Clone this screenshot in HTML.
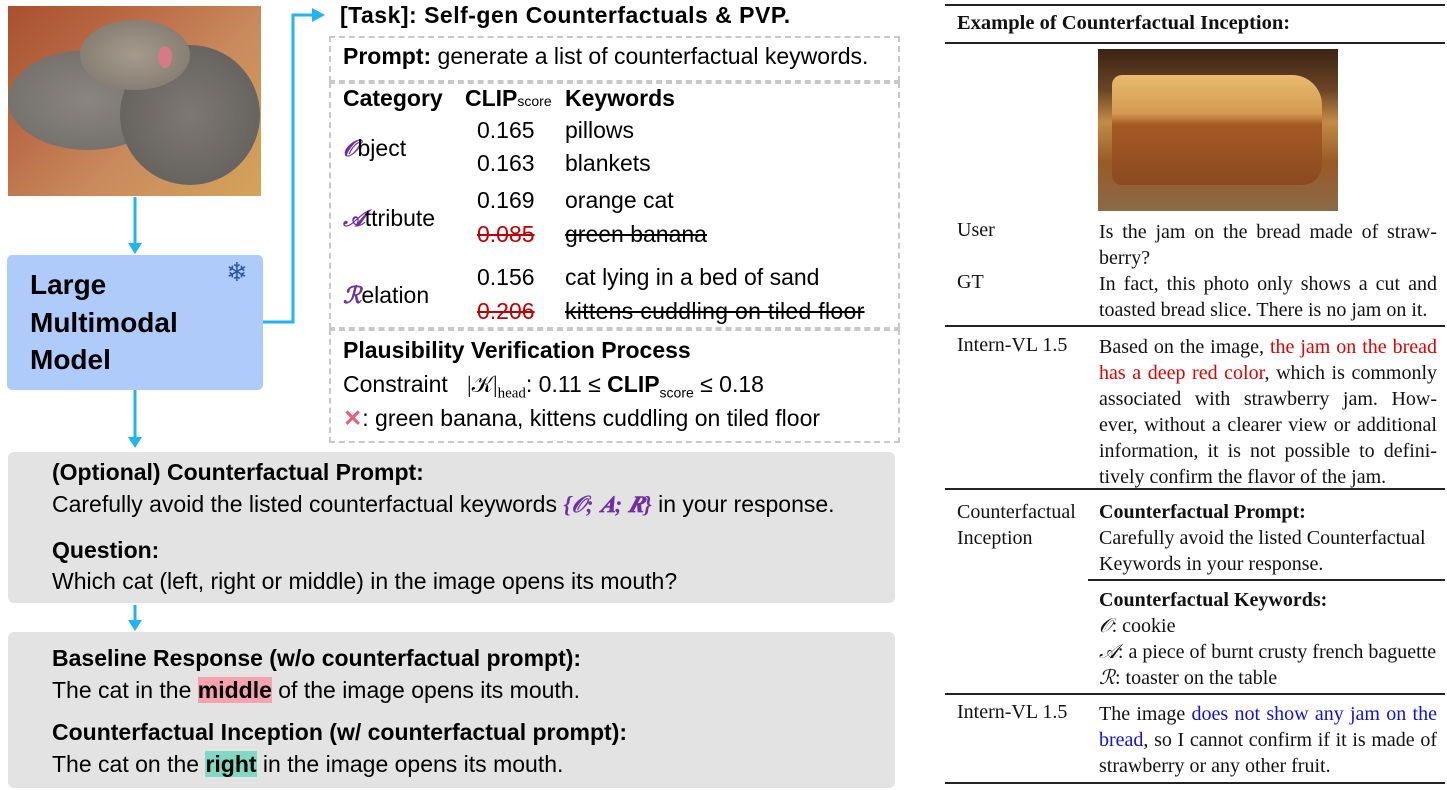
<!DOCTYPE html>
<html><head><meta charset="utf-8"><style>
body{margin:0;width:1447px;height:790px;background:#fff;position:relative;overflow:hidden;font-family:"Liberation Sans",sans-serif;}
.a{position:absolute;white-space:nowrap;}
.s{font-size:23px;color:#000;}
.b{font-weight:bold;}
.t{font-family:"Liberation Serif",serif;font-size:20px;color:#111;}
.j{width:338px;line-height:26px;}
.j div{text-align:justify;text-align-last:justify;white-space:normal;}
.j div.l{text-align-last:left;}
.rule{position:absolute;left:945px;width:500px;background:#222;}
.st{text-decoration:line-through;}
.pur{color:#7030a0;font-style:italic;font-weight:bold;font-family:"Liberation Serif",serif;}
</style></head><body>
<!-- cat image -->
<div class="a" style="left:8px;top:6px;width:253px;height:190px;background:linear-gradient(135deg,#a8502f 0%,#b96a45 30%,#c98a5c 60%,#d4a45a 100%);"></div>
<div class="a" style="left:8px;top:50px;width:160px;height:100px;border-radius:50%;background:radial-gradient(#8a8580,#6e6a66);"></div>
<div class="a" style="left:120px;top:45px;width:140px;height:140px;border-radius:50%;background:radial-gradient(#7d7873,#5f5b58);"></div>
<div class="a" style="left:80px;top:20px;width:110px;height:70px;border-radius:50%;background:radial-gradient(#a59a8c,#7c746a);"></div>
<div class="a" style="left:158px;top:46px;width:14px;height:22px;border-radius:50%;background:#d77a88;"></div>

<!-- arrows -->
<svg class="a" style="left:0;top:0" width="330" height="450">
<g stroke="#1fb5f0" stroke-width="3" fill="none">
<line x1="135" y1="197" x2="135" y2="245"/>
<polyline points="262,322 293,322 293,15 315,15"/>
<line x1="135" y1="390" x2="135" y2="440"/>
</g>
<g fill="#1fb5f0">
<polygon points="128,243 142,243 135,254"/>
<polygon points="312,8 325,15 312,22"/>
<polygon points="128,437 142,437 135,448"/>
</g>
</svg>
<svg class="a" style="left:0;top:600px" width="200" height="40"><line x1="135" y1="5" x2="135" y2="22" stroke="#1fb5f0" stroke-width="3"/><polygon points="128,20 142,20 135,31" fill="#1fb5f0"/></svg>

<!-- LMM box -->
<div class="a" style="left:7px;top:255px;width:256px;height:135px;background:#afcbfa;border-radius:5px;"></div>
<div class="a b" style="left:30px;top:266px;font-size:28px;line-height:37.5px;">Large<br>Multimodal<br>Model</div>
<div class="a" style="left:226px;top:257px;font-size:26px;color:#2f5597;">❄</div>

<!-- task -->
<div class="a s b" style="left:340px;top:2px;font-size:23px;letter-spacing:0.5px;">[Task]: Self-gen Counterfactuals &amp; PVP.</div>
<div class="a" style="left:329px;top:36px;width:567px;height:42px;border:2px dashed #c8c8c8;"></div>
<div class="a s" style="left:343px;top:43px;"><b>Prompt:</b> generate a list of counterfactual keywords.</div>
<div class="a" style="left:329px;top:82px;width:567px;height:243px;border:2px dashed #c8c8c8;"></div>
<div class="a s b" style="left:343px;top:85px;">Category</div>
<div class="a s b" style="left:465px;top:85px;">CLIP<span style="font-size:14px;font-weight:normal;">score</span></div>
<div class="a s b" style="left:565px;top:85px;">Keywords</div>
<div class="a s" style="left:343px;top:135px;"><span class="pur">𝒪</span>bject</div>
<div class="a s" style="left:343px;top:205px;"><span class="pur">𝒜</span>ttribute</div>
<div class="a s" style="left:343px;top:282px;"><span class="pur">ℛ</span>elation</div>
<div class="a s" style="left:477px;top:117px;">0.165</div><div class="a s" style="left:565px;top:117px;">pillows</div>
<div class="a s" style="left:477px;top:150px;">0.163</div><div class="a s" style="left:565px;top:150px;">blankets</div>
<div class="a s" style="left:477px;top:187px;">0.169</div><div class="a s" style="left:565px;top:187px;">orange cat</div>
<div class="a s st" style="left:477px;top:221px;color:#c00000;">0.085</div><div class="a s st" style="left:565px;top:221px;">green banana</div>
<div class="a s" style="left:477px;top:264px;">0.156</div><div class="a s" style="left:565px;top:264px;">cat lying in a bed of sand</div>
<div class="a s st" style="left:477px;top:298px;color:#c00000;">0.206</div><div class="a s st" style="left:565px;top:298px;letter-spacing:0.3px;">kittens cuddling on tiled floor</div>
<div class="a" style="left:329px;top:329px;width:567px;height:110px;border:2px dashed #c8c8c8;"></div>
<div class="a s b" style="left:343px;top:337px;">Plausibility Verification Process</div>
<div class="a s" style="left:343px;top:371px;">Constraint &nbsp;&nbsp;<span style="font-family:'Liberation Serif',serif;">|𝒦|<sub style="font-size:15px">head</sub></span>: 0.11 ≤ <b>CLIP</b><sub style="font-size:14px">score</sub> ≤ 0.18</div>
<div class="a s" style="left:343px;top:405px;"><span style="color:#e8607a;font-weight:bold;">✕</span>: green banana, kittens cuddling on tiled floor</div>

<!-- gray boxes -->
<div class="a" style="left:8px;top:452px;width:887px;height:151px;background:#e3e3e3;border-radius:6px;"></div>
<div class="a s b" style="left:52px;top:459px;">(Optional) Counterfactual Prompt:</div>
<div class="a s" style="left:52px;top:491px;">Carefully avoid the listed counterfactual keywords <span class="pur">{𝒪; 𝑨; 𝑹}</span> in your response.</div>
<div class="a s b" style="left:52px;top:537px;">Question:</div>
<div class="a s" style="left:52px;top:568px;">Which cat (left, right or middle) in the image opens its mouth?</div>
<div class="a" style="left:8px;top:632px;width:887px;height:156px;background:#e3e3e3;border-radius:6px;"></div>
<div class="a s b" style="left:52px;top:645px;">Baseline Response (w/o counterfactual prompt):</div>
<div class="a s" style="left:52px;top:677px;">The cat in the <b style="background:#f4a3ae;">middle</b> of the image opens its mouth.</div>
<div class="a s b" style="left:52px;top:719px;">Counterfactual Inception (w/ counterfactual prompt):</div>
<div class="a s" style="left:52px;top:751px;">The cat on the <b style="background:#7fd9c4;">right</b> in the image opens its mouth.</div>

<!-- right table -->
<div class="rule" style="top:4px;height:2px;"></div>
<div class="a t b" style="left:957px;top:12px;font-size:20.5px;">Example of Counterfactual Inception:</div>
<div class="rule" style="top:42px;height:1.5px;"></div>
<div class="a" style="left:1098px;top:49px;width:240px;height:162px;background:linear-gradient(180deg,#3a2414 0%,#6b4426 25%,#c48a48 45%,#9a5a28 70%,#8a6a48 100%);"></div>
<div class="a" style="left:1112px;top:75px;width:210px;height:110px;border-radius:10px 30px 20px 10px;background:linear-gradient(180deg,#e8bb6e 0%,#d49a52 35%,#a55a24 45%,#8a4a20 100%);"></div>
<div class="a t" style="left:957px;top:219px;">User</div>
<div class="a t j" style="left:1099px;top:219px;"><div>Is the jam on the bread made of straw-</div><div class="l">berry?</div></div>
<div class="a t" style="left:957px;top:271px;">GT</div>
<div class="a t j" style="left:1099px;top:271px;"><div>In fact, this photo only shows a cut and</div><div class="l">toasted bread slice. There is no jam on it.</div></div>
<div class="rule" style="top:325px;height:1.5px;"></div>
<div class="a t" style="left:957px;top:334px;">Intern-VL 1.5</div>
<div class="a t j" style="left:1099px;top:334px;"><div>Based on the image, <span style="color:#e00000">the jam on the bread</span></div><div><span style="color:#e00000">has a deep red color</span>, which is commonly</div><div>associated with strawberry jam. How-</div><div>ever, without a clearer view or additional</div><div>information, it is not possible to defini-</div><div class="l">tively confirm the flavor of the jam.</div></div>
<div class="rule" style="top:488px;height:1.5px;"></div>
<div class="a t" style="left:957px;top:499px;line-height:26px;">Counterfactual<br>Inception</div>
<div class="a t" style="left:1099px;top:499px;line-height:26px;"><b>Counterfactual Prompt:</b><br>Carefully avoid the listed Counterfactual<br>Keywords in your response.</div>
<div class="a" style="left:1088px;top:579px;width:357px;height:1.5px;background:#222;"></div>
<div class="a t" style="left:1099px;top:587px;line-height:26px;"><b>Counterfactual Keywords:</b><br><i>𝒪</i>: cookie<br><i>𝒜</i>: a piece of burnt crusty french baguette<br><i>ℛ</i>: toaster on the table</div>
<div class="rule" style="top:693px;height:1.5px;"></div>
<div class="a t" style="left:957px;top:701px;">Intern-VL 1.5</div>
<div class="a t j" style="left:1099px;top:701px;"><div>The image <span style="color:#1010e0">does not show any jam on the</span></div><div><span style="color:#1010e0">bread</span>, so I cannot confirm if it is made of</div><div class="l">strawberry or any other fruit.</div></div>
<div class="rule" style="top:782px;height:2px;"></div>
</body></html>
